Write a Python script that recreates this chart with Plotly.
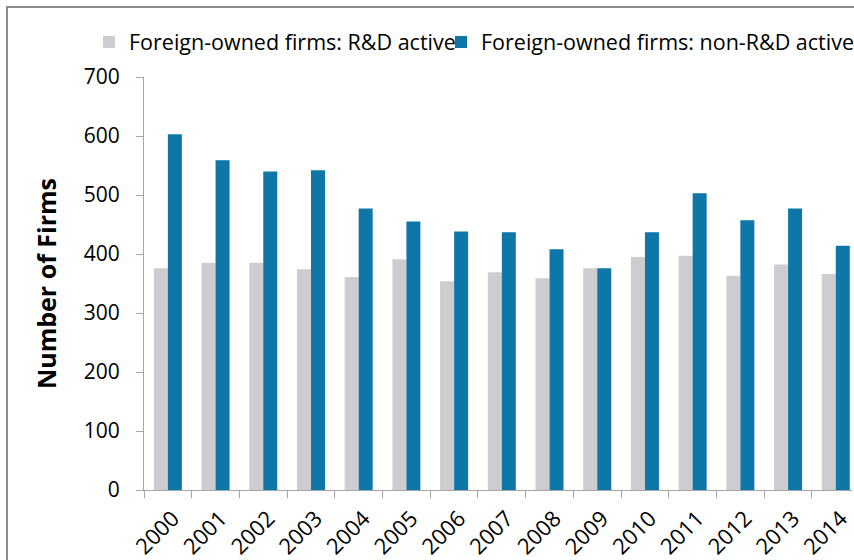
import plotly.graph_objects as go

years = ["2000", "2001", "2002", "2003", "2004", "2005", "2006", "2007",
         "2008", "2009", "2010", "2011", "2012", "2013", "2014"]
rd_active = [376, 385, 385, 374, 361, 391, 354, 369, 359, 376, 395, 397, 363, 382, 366]
non_rd_active = [603, 559, 540, 542, 477, 455, 438, 437, 408, 376, 437, 503, 457, 477, 414]
y_ticks = [0, 100, 200, 300, 400, 500, 600, 700]

FONT = "Open Sans"
AXIS_GREY = "#A6A6A6"

W, H = 854, 560
ML, MR, MT, MB = 144, 2, 77, 70
pw = W - ML - MR
ph = H - MT - MB

fig = go.Figure()
fig.add_trace(go.Bar(x=years, y=rd_active, name="Foreign-owned firms: R&D active",
                     marker=dict(color="#CDCDD1", line=dict(width=0)), legend="legend"))
fig.add_trace(go.Bar(x=years, y=non_rd_active, name="Foreign-owned firms: non-R&D active",
                     marker=dict(color="#0F76A8", line=dict(width=0)), legend="legend2"))

legend_common = dict(orientation="h", xanchor="left", yanchor="middle",
                     y=1 + (MT - 42) / ph,
                     font=dict(family=FONT, size=21.5, color="#000000"),
                     bgcolor="rgba(0,0,0,0)")

fig.update_layout(
    width=W, height=H,
    margin=dict(l=ML, r=MR, t=MT, b=MB, pad=0, autoexpand=False),
    paper_bgcolor="white", plot_bgcolor="white",
    barmode="group", bargap=0.413, bargroupgap=0,
    font=dict(family=FONT, size=21, color="#000000"),
    showlegend=True,
    legend=dict(x=(89 - ML) / pw, **legend_common),
    legend2=dict(x=(441 - ML) / pw, **legend_common),
    xaxis=dict(type="category", range=[-0.5, 14.34], tickangle=-45,
               showline=True, linecolor=AXIS_GREY, linewidth=1,
               ticks="outside", tickson="boundaries", ticklen=7, tickcolor=AXIS_GREY,
               showgrid=False, zeroline=False, ticklabelstandoff=6, ticklabelshift=5,
               tickfont=dict(family=FONT, size=22, color="#000000")),
    yaxis=dict(range=[0, 700], tickvals=y_ticks, showline=True, linecolor=AXIS_GREY,
               linewidth=1, ticks="outside", ticklen=7, tickcolor=AXIS_GREY,
               showgrid=False, zeroline=False, ticklabelstandoff=12,
               tickfont=dict(family=FONT, size=21, color="#000000"),
               title=dict(text="<b>Number of Firms</b>", standoff=20,
                          font=dict(family=FONT, size=25, color="#000000"))),
    shapes=[dict(type="rect", xref="paper", yref="paper",
                 x0=(7 - ML) / pw, x1=(W + 20 - ML) / pw,
                 y0=-(H + 20 - MT - ph) / ph, y1=1 + (MT - 7) / ph,
                 line=dict(color="#8C8C8C", width=2), fillcolor="rgba(0,0,0,0)",
                 layer="above")],
)

fig.write_html("out.html", config={"displayModeBar": False},
               post_script="document.body.style.margin='0';")
